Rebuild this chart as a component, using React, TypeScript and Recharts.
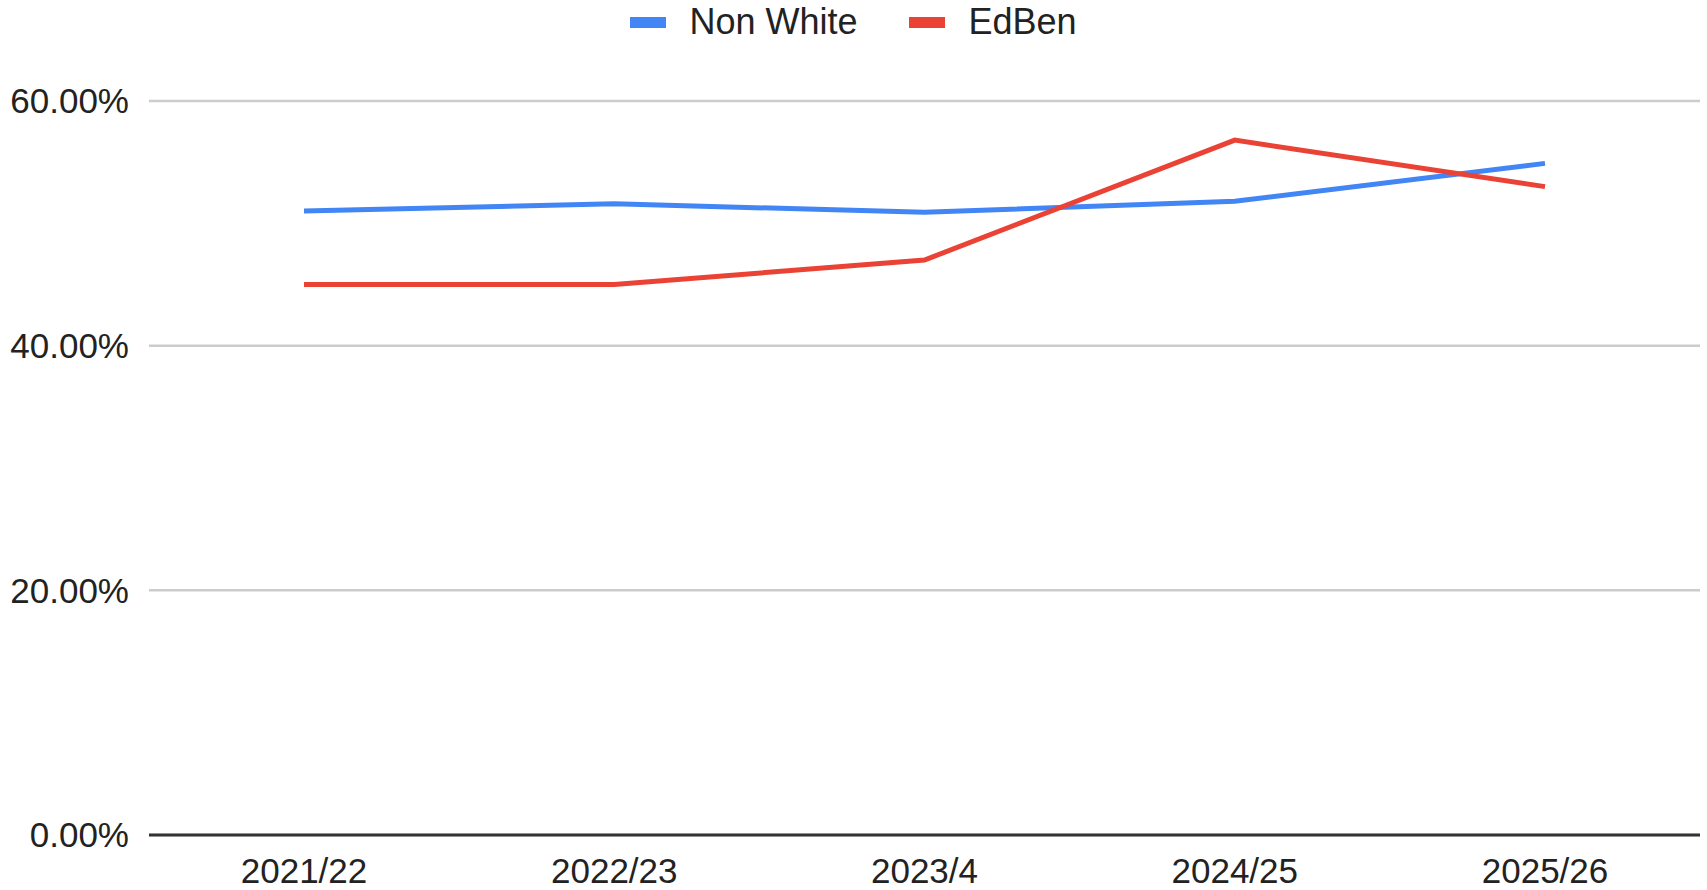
import React from "react";
import { LineChart, Line, XAxis, YAxis, CartesianGrid, Legend } from "recharts";

const years = ["2021/22", "2022/23", "2023/4", "2024/25", "2025/26"];
const nonWhite = [0.51, 0.516, 0.509, 0.518, 0.549];
const edBen = [0.45, 0.45, 0.47, 0.568, 0.53];
const yTicks = [0, 0.2, 0.4, 0.6];

const BLUE = "#4285F4";
const RED = "#EA4335";
const FONT = "'Liberation Sans', Arial, sans-serif";

const chartData = years.map((year, i) => ({
  year,
  nonWhite: nonWhite[i],
  edBen: edBen[i],
}));

const legendItems = [
  { label: "Non White", color: BLUE },
  { label: "EdBen", color: RED },
];

function ChartLegend() {
  return (
    <div
      style={{
        display: "flex",
        justifyContent: "center",
        alignItems: "center",
        fontFamily: FONT,
        fontSize: 36,
        color: "#222",
        height: 44,
      }}
    >
      {legendItems.map((item, i) => (
        <div
          key={item.label}
          style={{ display: "flex", alignItems: "center", marginLeft: i === 0 ? 0 : 52 }}
        >
          <span
            style={{
              display: "inline-block",
              width: 36,
              height: 11,
              background: item.color,
              marginRight: 23,
            }}
          />
          <span>{item.label}</span>
        </div>
      ))}
    </div>
  );
}

export default function App() {
  return (
    <div style={{ position: "absolute", left: 0, top: 0, background: "#fff" }}>
      <LineChart
        width={1707}
        height={890}
        data={chartData}
        margin={{ top: 101, right: 7, left: 0, bottom: 0 }}
      >
        <CartesianGrid vertical={false} stroke="#cccccc" strokeWidth={2.5} />
        <XAxis
          dataKey="year"
          height={55}
          padding={{ left: 155, right: 155 }}
          tickLine={false}
          tickSize={0}
          tickMargin={23}
          axisLine={{ stroke: "#333", strokeWidth: 3 }}
          tick={{ fontSize: 35, fill: "#222", fontFamily: FONT }}
        />
        <YAxis
          width={149}
          domain={[0, 0.6]}
          ticks={yTicks}
          axisLine={false}
          tickLine={false}
          tickSize={0}
          tickMargin={20}
          tick={{ fontSize: 35, fill: "#222", fontFamily: FONT }}
          tickFormatter={(v: number) => `${(v * 100).toFixed(2)}%`}
        />
        <Legend
          verticalAlign="middle"
          align="center"
          wrapperStyle={{ top: 0, left: 0, width: 1707 }}
          content={() => <ChartLegend />}
        />
        <Line
          type="linear"
          dataKey="nonWhite"
          stroke={BLUE}
          strokeWidth={5}
          dot={false}
          isAnimationActive={false}
        />
        <Line
          type="linear"
          dataKey="edBen"
          stroke={RED}
          strokeWidth={5}
          dot={false}
          isAnimationActive={false}
        />
      </LineChart>
    </div>
  );
}
